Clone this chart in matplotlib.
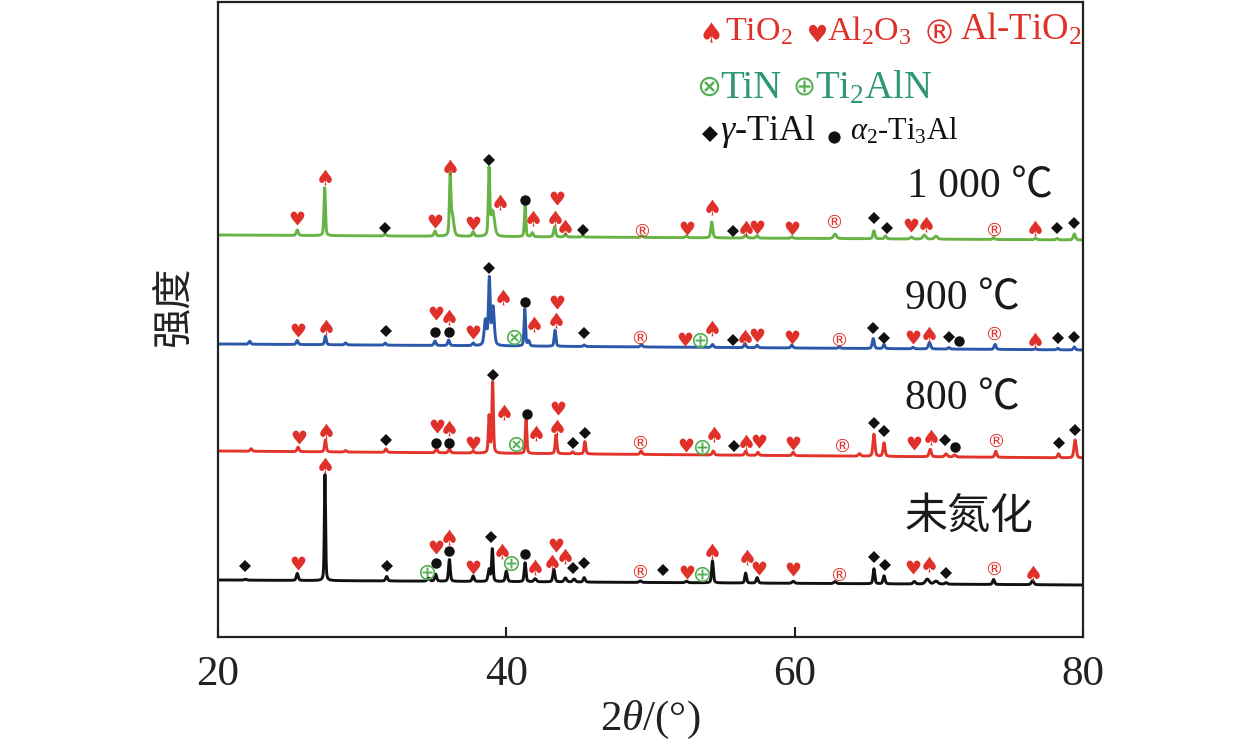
import numpy as np
import matplotlib
matplotlib.use('Agg')
import matplotlib.pyplot as plt
from matplotlib.textpath import TextPath
from matplotlib.font_manager import FontProperties
from matplotlib.path import Path

plt.rcParams['font.family'] = ['Liberation Serif', 'Noto Sans CJK SC', 'DejaVu Sans']
plt.rcParams['mathtext.fontset'] = 'custom'
plt.rcParams['mathtext.rm'] = 'Liberation Serif'
plt.rcParams['mathtext.it'] = 'Liberation Serif:italic'
plt.rcParams['mathtext.bf'] = 'Liberation Serif:bold'

# ---------------- data (2theta in degrees, intensity in a.u.) ----------------
sample_labels = ['未氮化', '800 ℃', '900 ℃', '1 000 ℃']

# baselines (intensity at 20 deg and at 80 deg)
base_black = [57, 52]
base_red = [186, 179]
base_blue = [293, 287]
base_green = [402, 397]

# peaks: positions, heights above baseline, half widths
pk_black_pos = [21.9, 25.5, 27.42, 31.7, 34.6, 35.1, 36.05, 37.7, 38.8, 39.03, 40.0, 41.3, 42.0,
                43.3, 44.1, 44.7, 45.4, 49.3, 52.5, 54.3, 56.6, 57.4, 59.9, 62.8, 65.5, 66.2,
                68.3, 69.2, 69.8, 70.5, 73.8, 76.5]
pk_black_h = [1, 7, 106, 4.5, 3, 7, 22, 5.5, 12, 33, 10.5, 19, 3,
              12.5, 4, 3, 4.5, 1.5, 1.5, 22, 10, 5.5, 2, 2, 15, 8,
              2.5, 5, 3, 1.5, 5, 4]
pk_black_w = [0.1, 0.08, 0.05, 0.08, 0.1, 0.08, 0.07, 0.08, 0.08, 0.06, 0.08, 0.07, 0.1,
              0.08, 0.1, 0.1, 0.08, 0.1, 0.1, 0.07, 0.07, 0.08, 0.1, 0.1, 0.07, 0.08,
              0.1, 0.15, 0.15, 0.1, 0.08, 0.1]

pk_red_pos = [22.3, 25.55, 27.45, 28.85, 31.65, 35.15, 36.05, 37.7, 38.8, 39.05, 41.37, 43.45,
              44.6, 45.45, 49.35, 54.35, 56.6, 57.45, 59.9, 64.5, 65.5, 66.2, 69.4, 70.5, 71.1,
              73.95, 78.3, 79.45]
pk_red_h = [2.5, 4.5, 12, 1.5, 3.5, 4.5, 4, 2, 37, 72, 35, 19,
            2, 12.5, 3.5, 4, 4, 3, 3.5, 2.5, 22, 13.5, 7.5, 3, 2,
            6, 4, 18]
pk_red_w = [0.08, 0.08, 0.07, 0.08, 0.08, 0.08, 0.08, 0.08, 0.06, 0.06, 0.06, 0.07,
            0.08, 0.07, 0.08, 0.08, 0.08, 0.08, 0.08, 0.1, 0.08, 0.08, 0.09, 0.1, 0.1,
            0.08, 0.08, 0.09]

pk_blue_pos = [22.2, 25.5, 27.45, 28.85, 31.6, 35.05, 36.0, 37.7, 38.55, 38.82, 39.08, 41.28,
               41.55, 43.38, 45.4, 49.37, 54.3, 56.55, 57.4, 59.8, 63.1, 65.45, 66.2, 68.2,
               69.35, 70.7, 73.9, 76.7, 78.25, 79.4]
pk_blue_h = [3, 4, 8.5, 2, 2, 4.5, 5.5, 2.5, 25, 66, 38, 37,
             5, 16, 1.5, 2.5, 3, 4, 2.5, 3, 1.5, 10, 4, 1.5,
             6.5, 1.5, 5, 1, 1.5, 3]
pk_blue_w = [0.08, 0.08, 0.07, 0.08, 0.08, 0.08, 0.08, 0.08, 0.1, 0.07, 0.1, 0.06,
             0.08, 0.07, 0.08, 0.08, 0.08, 0.08, 0.08, 0.08, 0.08, 0.08, 0.08, 0.08,
             0.09, 0.08, 0.08, 0.08, 0.08, 0.08]

pk_green_pos = [25.5, 27.4, 31.6, 35.05, 36.1, 36.25, 37.7, 38.8, 39.05, 41.3, 41.8, 43.35,
                44.1, 45.3, 49.4, 52.5, 54.25, 56.6, 57.4, 59.8, 62.8, 65.5, 66.3, 68.1,
                69.0, 69.8, 73.8, 76.7, 78.2, 79.4]
pk_green_h = [5.5, 48, 2, 5, 57, 20, 4.5, 65, 25, 31, 4, 10,
              3, 1.5, 2, 2, 16, 3, 2.5, 1.5, 4.5, 8, 3, 2,
              4, 3, 2, 1.5, 1.5, 6]
pk_green_w = [0.08, 0.06, 0.08, 0.08, 0.06, 0.12, 0.08, 0.06, 0.15, 0.06, 0.08, 0.08,
              0.08, 0.08, 0.08, 0.08, 0.08, 0.1, 0.08, 0.08, 0.12, 0.08, 0.08, 0.1,
              0.12, 0.12, 0.08, 0.08, 0.08, 0.09]

# phase labels: S=TiO2 (spade), H=Al2O3 (heart), R=Al-TiO2, X=TiN, P=Ti2AlN,
#               D=gamma-TiAl, O=alpha2-Ti3Al
mk_black_x = [21.87, 25.57, 27.42, 31.7, 34.47, 35.1, 35.15, 36.05, 36.05, 37.7, 38.93, 39.68,
              40.32, 41.3, 42.0, 43.44, 43.2, 44.07, 44.6, 45.4, 49.3, 50.85, 52.5, 53.55,
              54.3, 56.7, 57.5, 59.9, 63.1, 65.5, 66.3, 68.2, 69.35, 70.5, 73.85, 76.55]
mk_black_y = [71, 73.7, 172, 71, 65.3, 90.3, 74.3, 99.7, 86.3, 70.3, 99.7, 86,
              73.7, 82.7, 69.7, 92, 75.3, 81, 68.7, 73.7, 66.3, 67, 65.3, 63,
              86.3, 80.3, 68.7, 67.7, 62.7, 79.7, 72, 70, 72.7, 64.3, 68.7, 64.3]
mk_black_s = ['D', 'H', 'S', 'D', 'P', 'H', 'O', 'S', 'O', 'H', 'D', 'S',
              'P', 'O', 'S', 'H', 'S', 'S', 'D', 'D', 'R', 'D', 'H', 'P',
              'S', 'S', 'H', 'H', 'R', 'D', 'D', 'H', 'S', 'D', 'R', 'S']

mk_red_x = [25.6, 27.5, 31.65, 35.2, 35.15, 36.05, 36.05, 37.7, 39.1, 39.83, 40.67, 41.45,
            42.05, 43.55, 43.5, 44.6, 45.45, 49.3, 52.46, 53.55, 54.4, 55.8, 56.6, 57.5,
            59.85, 63.25, 65.5, 66.2, 68.3, 69.45, 70.4, 71.1, 73.96, 78.35, 79.45]
mk_red_y = [200.3, 206, 197, 211.3, 194.3, 208.7, 193.7, 194.3, 262, 225.3, 192.7, 223,
            204.3, 229.3, 210.3, 193.7, 203.7, 195.3, 192, 190.3, 203, 191, 195.3, 196,
            194.3, 192, 214.3, 206, 193.7, 200.3, 197, 190.3, 197, 194.3, 207]
mk_red_s = ['H', 'S', 'D', 'H', 'O', 'S', 'O', 'H', 'D', 'S', 'X', 'O',
            'S', 'H', 'S', 'D', 'D', 'R', 'H', 'P', 'S', 'D', 'S', 'H',
            'H', 'R', 'D', 'D', 'H', 'S', 'D', 'O', 'R', 'D', 'D']

mk_blue_x = [25.57, 27.5, 31.65, 35.1, 35.05, 36.0, 36.0, 37.66, 38.82, 39.75, 40.5, 41.3,
             41.95, 43.5, 43.45, 45.4, 49.3, 52.4, 53.43, 54.3, 55.7, 56.55, 57.4, 59.8,
             63.1, 65.45, 66.2, 68.2, 69.35, 70.7, 71.4, 73.85, 76.7, 78.25, 79.4]
mk_blue_y = [307, 310.3, 306.3, 324, 305.3, 320.3, 305.3, 305.3, 368.7, 340.3, 299.7, 334.7,
             313, 335.3, 317, 303.7, 300.3, 298, 297, 308.7, 297, 299.7, 302, 299.7,
             297.7, 308.7, 298.7, 299.7, 303, 300.3, 296.3, 304.3, 297, 298.7, 300.3]
mk_blue_s = ['H', 'S', 'D', 'H', 'O', 'S', 'O', 'H', 'D', 'S', 'X', 'O',
             'S', 'H', 'S', 'D', 'R', 'H', 'P', 'S', 'D', 'S', 'H', 'H',
             'R', 'D', 'D', 'H', 'S', 'D', 'O', 'R', 'S', 'D', 'D']

mk_green_x = [25.5, 27.4, 31.6, 35.05, 36.1, 37.7, 38.8, 39.56, 41.3, 41.87, 43.5, 43.4,
              44.1, 45.3, 49.4, 52.5, 54.25, 55.7, 56.6, 57.4, 59.8, 62.7, 65.5, 66.4,
              68.1, 69.1, 73.8, 76.7, 78.2, 79.4]
mk_green_y = [419, 460, 409, 416, 470, 414, 477, 435, 437, 419, 439, 419,
              410, 407, 407, 409, 430, 406, 409, 410, 409, 416, 419, 409,
              412, 413, 408, 409, 409, 414]
mk_green_s = ['H', 'S', 'D', 'H', 'S', 'H', 'D', 'S', 'O', 'S', 'H', 'S',
              'S', 'D', 'R', 'H', 'S', 'D', 'S', 'H', 'H', 'R', 'D', 'D',
              'H', 'S', 'R', 'S', 'D', 'D']

# ---------------- styles ----------------
RED = '#e0302a'
GREEN_SYM = '#55b055'
GREEN_TXT = '#2f9870'
BLACK = '#111111'
trace_colors = ['#111111', '#e3342b', '#2b58a8', '#68b345']


def glyph_path(ch):
    tp = TextPath((0, 0), ch, size=10, prop=FontProperties(family='DejaVu Sans'))
    v = tp.vertices.copy()
    codes = tp.codes.copy()
    # make closing vertices coincide with the previous vertex (avoid stray (0,0))
    for i in range(len(codes)):
        if codes[i] == Path.CLOSEPOLY and i > 0:
            v[i] = v[i - 1]
    real = codes != Path.CLOSEPOLY
    x0, y0 = v[real].min(axis=0)
    x1, y1 = v[real].max(axis=0)
    v[:, 0] -= (x0 + x1) / 2
    v[:, 1] -= (y0 + y1) / 2
    return Path(v, codes)


sym_style = {
    'S': dict(marker=glyph_path('\u2660'), ms=11.3, color=RED),
    'H': dict(marker=glyph_path('\u2665'), ms=10.0, color=RED),
    'R': dict(marker=glyph_path('\u00ae'), ms=9.5, color=RED),
    'X': dict(marker=glyph_path('\u2297'), ms=11.0, color=GREEN_SYM),
    'P': dict(marker=glyph_path('\u2295'), ms=11.0, color=GREEN_SYM),
    'D': dict(marker='D', ms=6.6, color=BLACK),
    'O': dict(marker='o', ms=7.5, color=BLACK),
}


def pv(x, pos, h, w):
    y = np.zeros_like(x)
    for p, a, g in zip(pos, h, w):
        lor = 1.0 / (1.0 + ((x - p) / g) ** 2)
        gau = np.exp(-np.log(2) * ((x - p) / g) ** 2)
        y += a * (0.4 * lor + 0.6 * gau)
    return y


W, H = 1259, 751
fig = plt.figure(figsize=(W / 100, H / 100), dpi=100)
ax = fig.add_axes([218 / W, (H - 637) / H, 865 / W, 635.5 / H])

x = np.linspace(20, 80, 3001)
series = [
    (base_black, pk_black_pos, pk_black_h, pk_black_w, mk_black_x, mk_black_y, mk_black_s),
    (base_red, pk_red_pos, pk_red_h, pk_red_w, mk_red_x, mk_red_y, mk_red_s),
    (base_blue, pk_blue_pos, pk_blue_h, pk_blue_w, mk_blue_x, mk_blue_y, mk_blue_s),
    (base_green, pk_green_pos, pk_green_h, pk_green_w, mk_green_x, mk_green_y, mk_green_s),
]
for (base, pp, ph, pw, mx, my, ms_), col in zip(series, trace_colors):
    baseline = base[0] + (base[1] - base[0]) * (x - 20) / 60
    ax.plot(x, baseline + pv(x, pp, ph, pw), color=col, lw=2.1, zorder=2, solid_joinstyle='round')
    mx = np.array(mx); my = np.array(my); ms_ = np.array(ms_)
    for code, st in sym_style.items():
        sel = ms_ == code
        if sel.any():
            ax.plot(mx[sel], my[sel], ls='none', marker=st['marker'], ms=st['ms'],
                    mfc=st['color'], mec=st['color'], mew=0, zorder=3, clip_on=False)

ax.set_xlim(20, 80)
ax.set_ylim(0, 635.5)
ax.set_xticks([20, 40, 60, 80])
ax.set_yticks([])
ax.tick_params(axis='x', direction='in', length=7, width=1.5, pad=13, labelsize=31,
               colors='#222222')
for sp in ax.spines.values():
    sp.set_linewidth(1.6)
    sp.set_color('#222222')

ax.set_xlabel(r'2$\theta$/(°)', fontsize=31, color='#222222')
ax.xaxis.set_label_coords(0.5, -0.098)
ax.set_ylabel('强度', fontsize=29, family=['Noto Sans CJK SC'], color='#222222')
ax.yaxis.set_label_coords(-0.028, 0.52)


def px2ax(px, py):
    return (px - 218) / 865, (637 - py) / 635.5


# sample labels
lab_pos = [(905, 517, 'center', 31), (905, 410, 'baseline', 30), (905, 310, 'baseline', 30),
           (907, 198, 'baseline', 30)]
for lab, (px, py, va, fs) in zip(sample_labels, lab_pos):
    fam = ['Noto Sans CJK SC'] if lab == '未氮化' else ['Liberation Serif', 'Noto Sans CJK SC']
    ax.text(*px2ax(px, py), lab, transform=ax.transAxes, fontsize=fs, va=va, ha='left',
            family=fam, color='#1a1a1a')

# legend (phase key)
leg_syms = [('S', 711, 31.5, 14.5, RED), ('H', 816.7, 32.5, 12.5, RED), ('R', 939, 30.7, 17.5, RED),
            ('X', 708.7, 86, 14, GREEN_SYM), ('P', 804.3, 86, 13, GREEN_SYM),
            ('D', 710, 134, 8.0, BLACK), ('O', 834.3, 137, 8.8, BLACK)]
for code, px, py, size, col in leg_syms:
    st = sym_style[code]
    ax.plot(*px2ax(px, py), transform=ax.transAxes, ls='none', marker=st['marker'], ms=size,
            mfc=col, mec=col, mew=0, clip_on=False, zorder=4)

leg_txt = [(r'TiO$_2$', 725, 40, 24.5, RED), (r'Al$_2$O$_3$', 826.7, 40, 24.5, RED),
           (r'Al-TiO$_2$', 960, 40, 26.5, RED),
           ('TiN', 720, 98.3, 28, GREEN_TXT), (r'Ti$_2$AlN', 815, 98.3, 28, GREEN_TXT),
           (r'$\gamma$-TiAl', 720, 140, 26, BLACK), (r'$\alpha_2$-Ti$_3$Al', 850, 140, 22, BLACK)]
for s, px, py, fs, col in leg_txt:
    ax.text(*px2ax(px, py), s, transform=ax.transAxes, fontsize=fs, va='baseline', ha='left',
            color=col, clip_on=False, zorder=4)

fig.savefig('out.png', dpi=100)
